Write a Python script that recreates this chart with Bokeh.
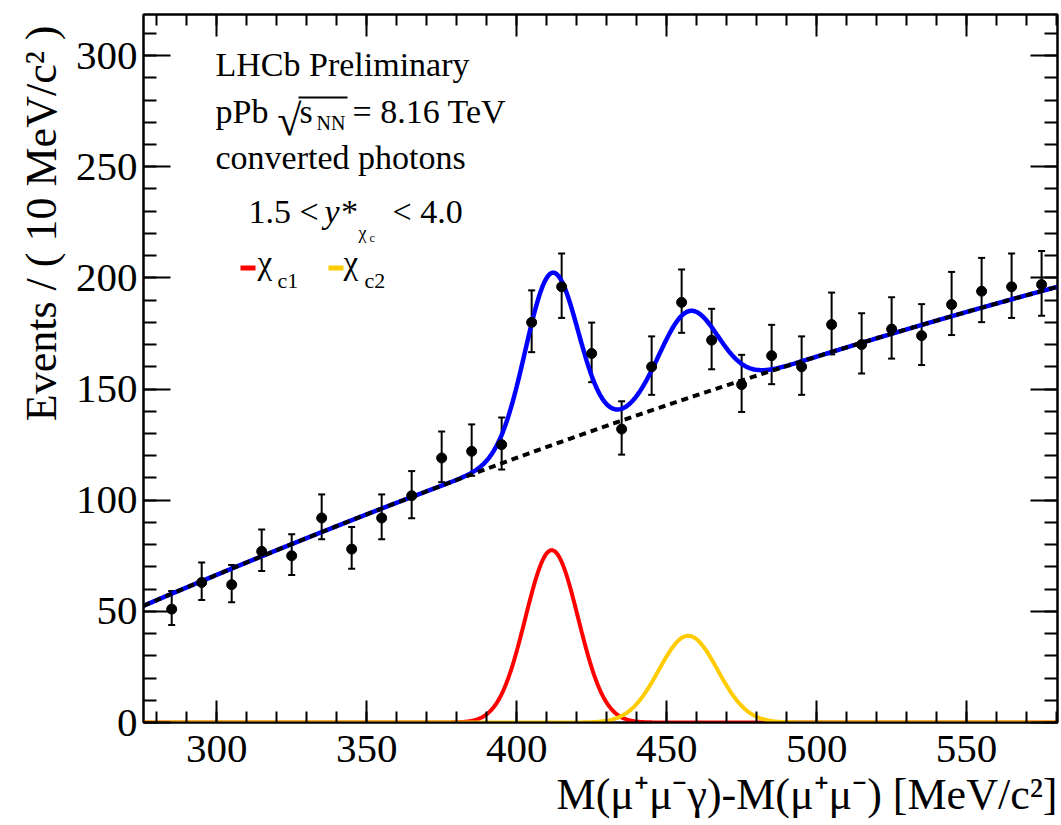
import numpy as np
from bokeh.plotting import figure
from bokeh.models import (Range1d, SingleIntervalTicker, LinearAxis, Label, Whisker,
                          ColumnDataSource, TeeHead, BoxAnnotation, Title)
from bokeh.embed import file_html
from bokeh.resources import INLINE

# ---------------- data ----------------
mass = [285, 295, 305, 315, 325, 335, 345, 355, 365, 375, 385, 395, 405, 415, 425,
        435, 445, 455, 465, 475, 485, 495, 505, 515, 525, 535, 545, 555, 565, 575]
counts = [51, 63, 62, 77, 75, 92, 78, 92, 102, 119, 122, 125, 180, 196, 166,
          132, 160, 189, 172, 152, 165, 160, 179, 170, 177, 174, 188, 194, 196, 197]
err_lo = [7.1, 7.9, 7.9, 8.8, 8.7, 9.6, 8.8, 9.6, 10.1, 10.9, 11.0, 11.2, 13.4, 14.0, 12.9,
          11.5, 12.6, 13.7, 13.1, 12.3, 12.8, 12.6, 13.4, 13.0, 13.3, 13.2, 13.7, 13.9, 14.0, 14.0]
err_hi = [8.2, 9.0, 8.9, 9.8, 9.7, 10.6, 9.9, 10.6, 11.1, 11.9, 12.1, 12.2, 14.4, 15.0, 13.9,
          12.5, 13.7, 14.8, 14.1, 13.4, 13.9, 13.7, 14.4, 14.1, 14.3, 14.2, 14.7, 15.0, 15.0, 15.1]

# fit model parameters
chic1_mean, chic1_sigma, chic1_amp = 411.7, 8.8, 77.5
chic2_mean, chic2_sigma, chic2_amp = 457.2, 9.8, 39.0
bkg_ref = 275.6
bkg_c0, bkg_c1, bkg_c2 = 52.5, 0.5792, -3.553e-4

x_range = (275.6, 580.3)
y_range = (0.0, 318.5)
y_ticks_step = 50
x_ticks_step = 50

SERIF = "Liberation Serif"
TXT = 34      # size of the annotation texts
DY = 11       # vertical correction for label baselines

# ---------------- model curves ----------------
xs = np.linspace(x_range[0], x_range[1], 900)
bkg = bkg_c0 + bkg_c1 * (xs - bkg_ref) + bkg_c2 * (xs - bkg_ref) ** 2
g1 = chic1_amp * np.exp(-0.5 * ((xs - chic1_mean) / chic1_sigma) ** 2)
g2 = chic2_amp * np.exp(-0.5 * ((xs - chic2_mean) / chic2_sigma) ** 2)
total = bkg + g1 + g2

# ---------------- figure ----------------
p = figure(frame_width=914, frame_height=708,
           x_range=Range1d(*x_range), y_range=Range1d(*y_range),
           output_backend="svg", toolbar_location=None,
           min_border_left=143, min_border_top=14, min_border_right=4, min_border_bottom=103)
p.grid.visible = False
p.background_fill_color = "white"
p.border_fill_color = "white"
p.outline_line_color = "black"
p.outline_line_width = 2


def style_axis(ax, tick_in, minor_in, show_labels, standoff):
    ax.axis_line_color = "black"
    ax.axis_line_width = 2
    ax.major_tick_line_color = "black"
    ax.major_tick_line_width = 2
    ax.minor_tick_line_color = "black"
    ax.minor_tick_line_width = 2
    ax.major_tick_in = tick_in
    ax.major_tick_out = 0
    ax.minor_tick_in = minor_in
    ax.minor_tick_out = 0
    ax.major_label_text_font = SERIF
    ax.major_label_standoff = standoff
    if show_labels:
        ax.major_label_text_font_size = "41px"
        ax.major_label_text_color = "black"
    else:
        ax.major_label_text_font_size = "0px"
        ax.major_label_text_color = None
        ax.major_label_text_alpha = 0


p.xaxis.ticker = SingleIntervalTicker(interval=x_ticks_step, num_minor_ticks=5)
p.yaxis.ticker = SingleIntervalTicker(interval=y_ticks_step, num_minor_ticks=5)
style_axis(p.xaxis[0], 22, 11, True, 13)
style_axis(p.yaxis[0], 27, 13, True, 6)

top_ax = LinearAxis(ticker=SingleIntervalTicker(interval=x_ticks_step, num_minor_ticks=5))
right_ax = LinearAxis(ticker=SingleIntervalTicker(interval=y_ticks_step, num_minor_ticks=5))
style_axis(top_ax, 22, 11, False, 0)
style_axis(right_ax, 27, 13, False, 0)
p.add_layout(top_ax, "above")
p.add_layout(right_ax, "right")

# axis titles (right / top aligned as in ROOT)
ytitle = Title(text="Events / ( 10  MeV/c\u00b2 )", align="right", text_font=SERIF,
               text_font_size="44px", text_font_style="normal", text_color="black",
               standoff=13)
p.add_layout(ytitle, "left")
xtitle = Title(text="M(\u03bc\u207a\u03bc\u207b\u03b3)-M(\u03bc\u207a\u03bc\u207b) [MeV/c\u00b2]",
               align="right", text_font=SERIF, text_font_size="44px",
               text_font_style="normal", text_color="black", standoff=7)
p.add_layout(xtitle, "below")

# ---------------- curves ----------------
p.line(xs, g1, line_color="#ff0000", line_width=4)
p.line(xs, g2, line_color="#ffcc00", line_width=4)
p.line(xs, total, line_color="#0000ff", line_width=4.5)
p.line(xs, bkg, line_color="black", line_width=4, line_dash="7 5")

# ---------------- data ----------------
src = ColumnDataSource(dict(
    x=mass, y=counts,
    lower=[c - e for c, e in zip(counts, err_lo)],
    upper=[c + e for c, e in zip(counts, err_hi)],
))
wh = Whisker(source=src, base="x", lower="lower", upper="upper",
             line_color="black", line_width=2,
             lower_head=TeeHead(size=7, line_width=2, line_color="black"),
             upper_head=TeeHead(size=7, line_width=2, line_color="black"))
p.add_layout(wh)
p.scatter("x", "y", source=src, size=10, color="black")

# ---------------- texts ----------------
def lab(text, sx, sy, size, align="left", style="normal"):
    p.add_layout(Label(x=sx, y=sy + DY, x_units="screen", y_units="screen", text=text,
                       text_font=SERIF, text_font_size=f"{size}px", text_color="black",
                       text_align=align, text_baseline="alphabetic",
                       text_font_style=style))


def bar(left, right, bottom, top, color):
    p.add_layout(BoxAnnotation(left=left, right=right, bottom=bottom, top=top,
                               left_units="screen", right_units="screen",
                               bottom_units="screen", top_units="screen",
                               fill_color=color, fill_alpha=1, line_alpha=0))


lab("LHCb Preliminary", 72, 647, TXT)
lab("pPb", 72, 600, TXT)
lab("\u221a", 158, 591, 44, align="right")
bar(155, 204, 624, 626, "black")
lab("s", 156, 600, TXT)
lab("NN", 173, 589, 20)
lab("= 8.16 TeV", 209, 600, TXT)
lab("converted photons", 72, 554, TXT)
lab("1.5 <", 105, 500, TXT)
lab("y*", 181, 500, TXT, style="italic")
lab("\u03c7", 215, 479, 18)
lab("c", 226, 474, 12)
lab("< 4.0", 249, 500, TXT)

# legend
bar(97, 112, 452, 457, "#ff0000")
lab("\u03c7", 114, 449, 33)
lab("c1", 134, 431, 22)
bar(185, 200, 452, 457, "#ffcc00")
lab("\u03c7", 200, 449, 33)
lab("c2", 221, 431, 22)

open("out.html", "w").write(file_html(p, INLINE))
